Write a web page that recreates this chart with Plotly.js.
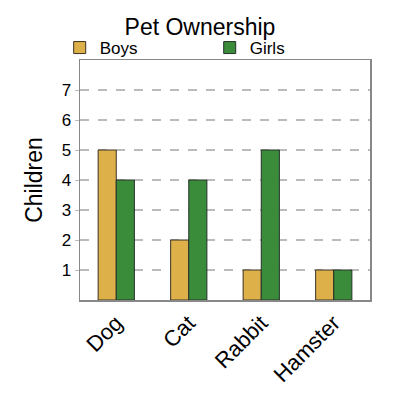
<!DOCTYPE html>
<html><head><meta charset="utf-8">
<script src="https://cdn.plot.ly/plotly-3.0.1.min.js"></script>
<style>html,body{margin:0;padding:0;background:#fff}</style>
</head><body>
<div id="chart" style="width:400px;height:400px"></div>
<script>
const categories = ["Dog", "Cat", "Rabbit", "Hamster"];
const boys = [5, 2, 1, 1];
const girls = [4, 4, 5, 1];
const yTicks = [1, 2, 3, 4, 5, 6, 7];

const font = "Liberation Sans, Arial, sans-serif";
const traces = [
  {type: "bar", name: "Boys", x: categories, y: boys,
   marker: {color: "#DDB04A", line: {color: "#3a3226", width: 1}}},
  {type: "bar", name: "Girls", x: categories, y: girls,
   marker: {color: "#3A8C3A", line: {color: "#26302a", width: 1}}}
];
const layout = {
  width: 400, height: 400,
  margin: {l: 80, r: 30, t: 60, b: 100, autoexpand: false},
  paper_bgcolor: "#fff", plot_bgcolor: "#fff",
  font: {family: font, color: "#000", size: 17},
  title: {text: "Pet Ownership", x: 0.5, xref: "container", y: 373/400, yanchor: "middle", font: {size: 23}},
  barmode: "group", bargap: 0.5, bargroupgap: 0,
  showlegend: true,
  legend: {orientation: "h", x: -0.07, xanchor: "left", y: 1.125, yanchor: "top",
           entrywidth: 105, entrywidthmode: "pixels", font: {size: 17},
           itemwidth: 30, tracegroupgap: 0, bgcolor: "rgba(0,0,0,0)"},
  xaxis: {tickangle: -45, tickfont: {size: 22}, showline: true, linecolor: "#888", linewidth: 1.5,
          mirror: true, showgrid: false, ticks: ""},
  yaxis: {range: [0, 8], tickvals: yTicks, ticktext: yTicks.map(String), tickfont: {size: 17},
          showline: true, linecolor: "#888", linewidth: 1.5, mirror: true,
          showgrid: true, gridcolor: "#bbb", griddash: "dash", gridwidth: 1.5, zeroline: false,
          ticks: "outside", ticklen: 4, tickcolor: "#bbb",
          title: {text: "Children", font: {size: 23}, standoff: 12}}
};
Plotly.newPlot("chart", traces, layout, {staticPlot: true, displayModeBar: false});
</script>
</body></html>
